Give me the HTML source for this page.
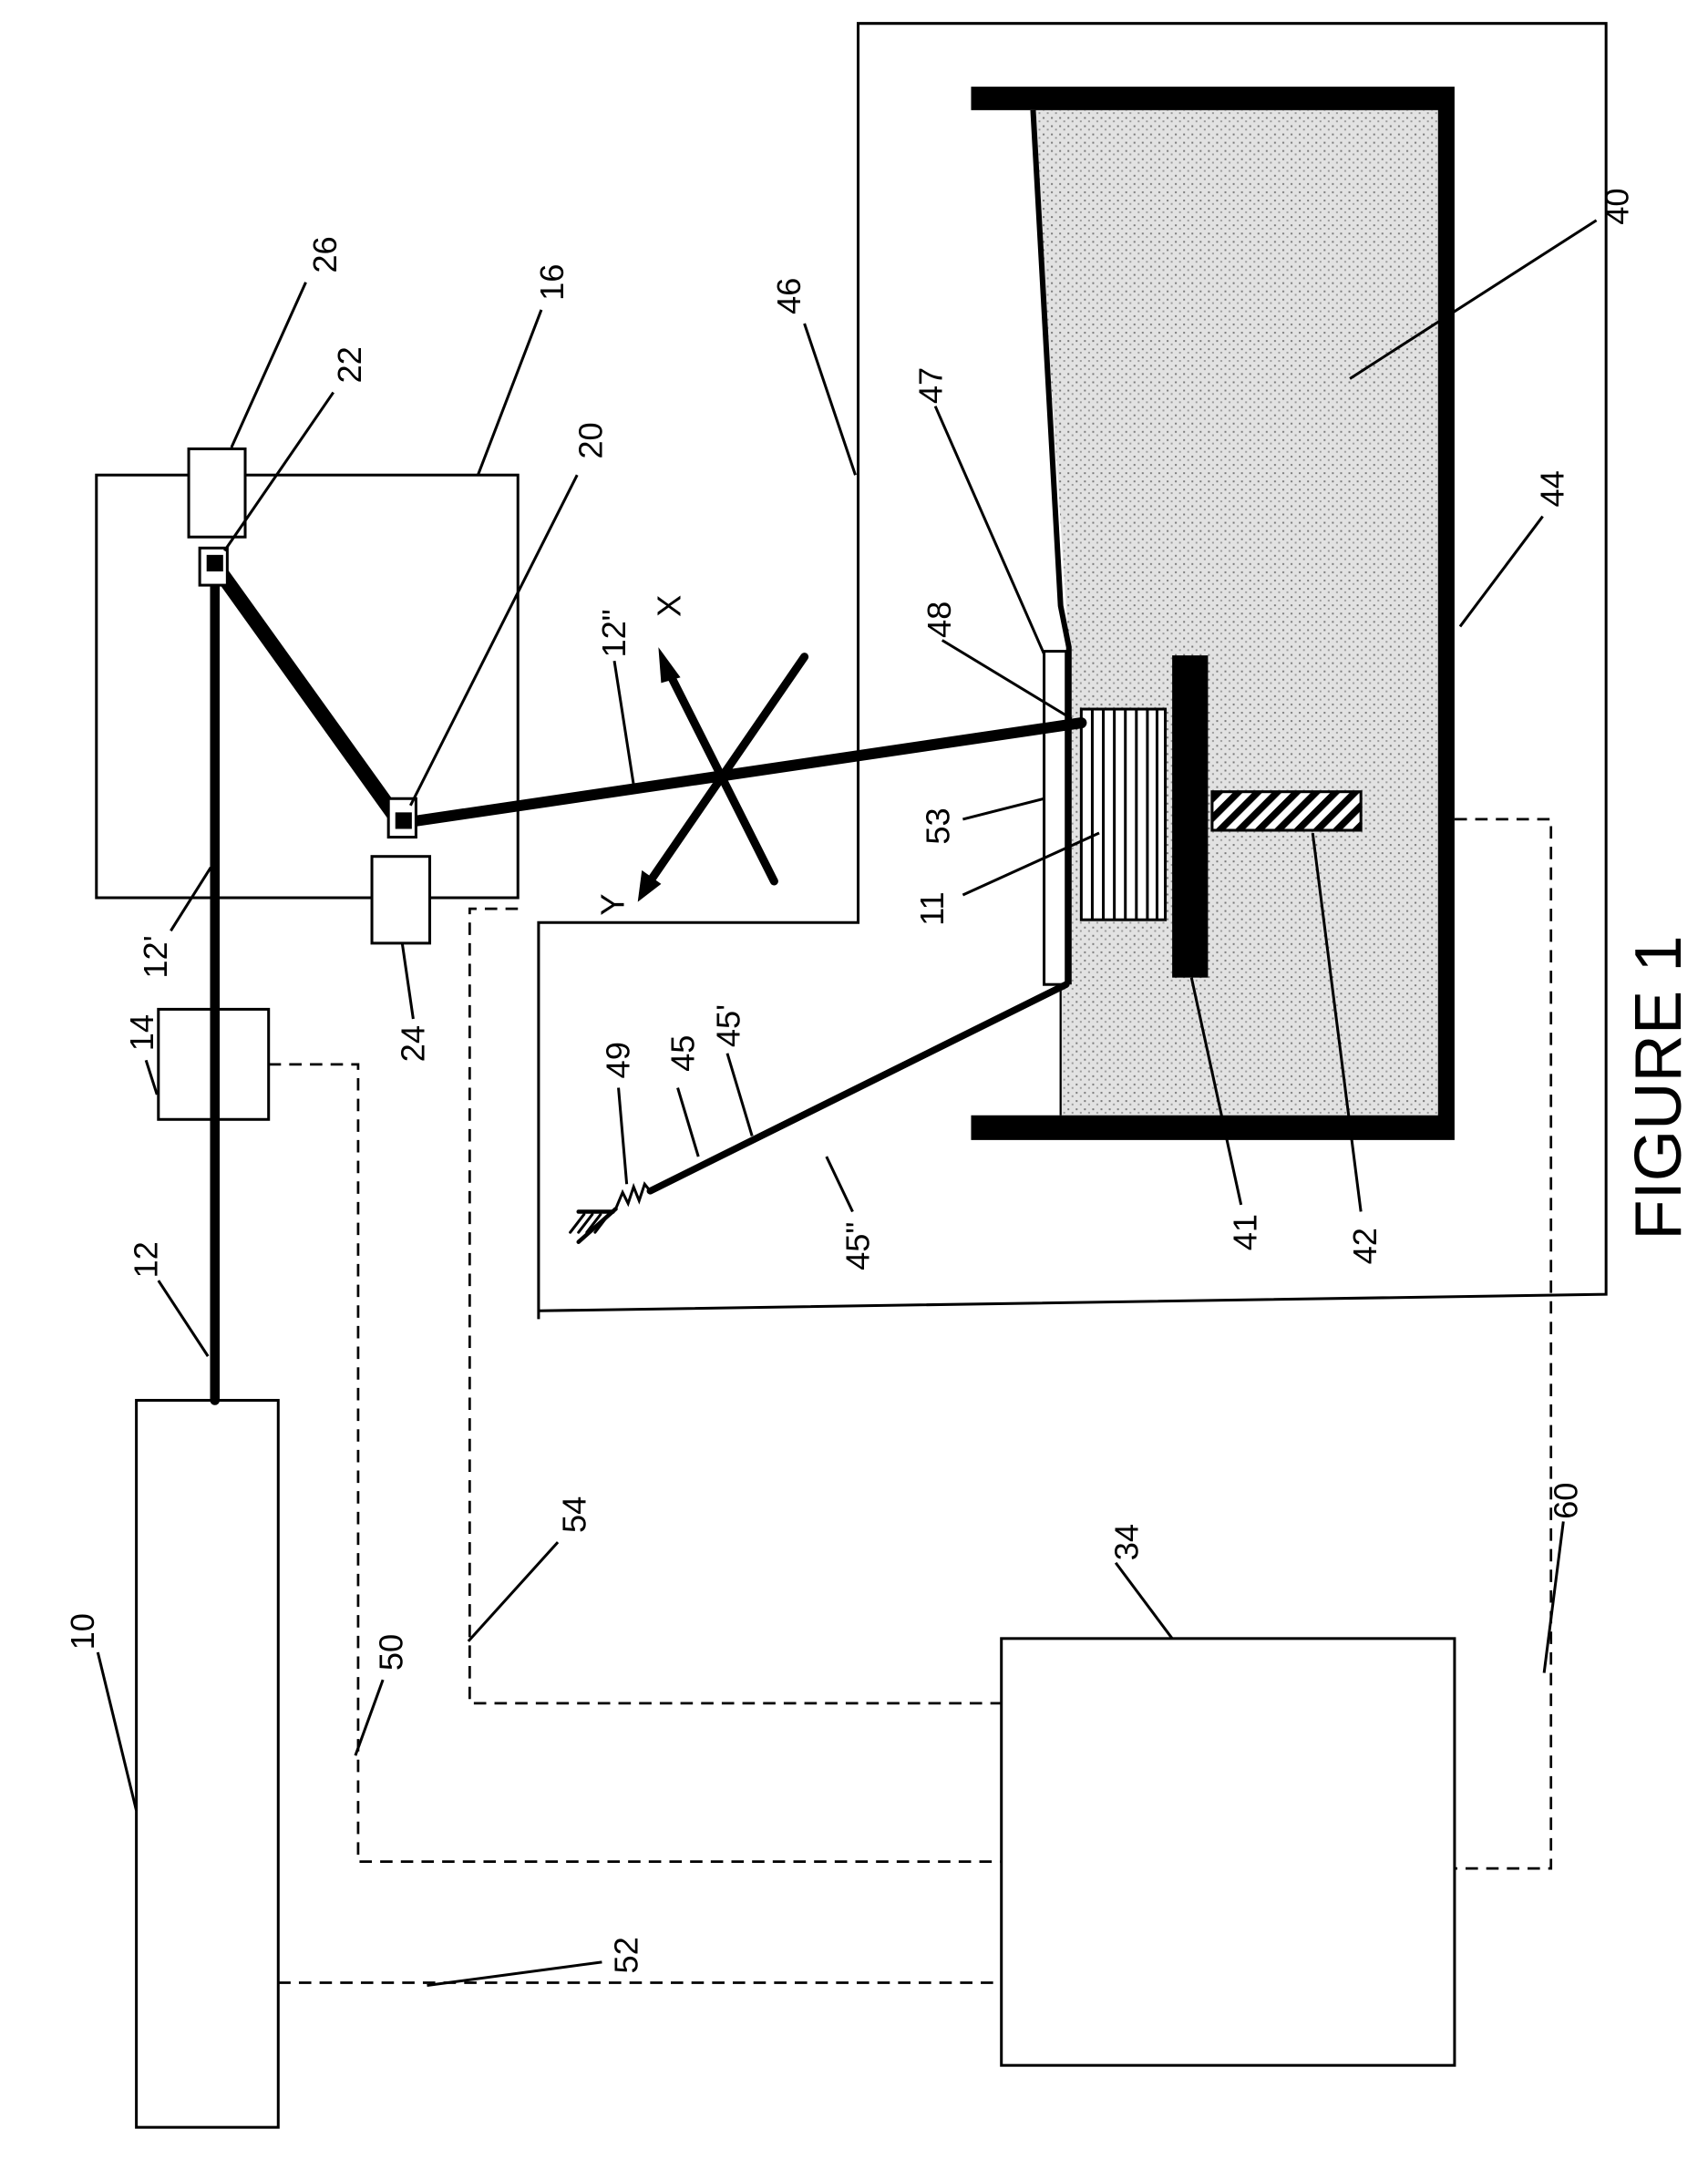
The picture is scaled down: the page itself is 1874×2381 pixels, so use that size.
<!DOCTYPE html>
<html><head><meta charset="utf-8"><style>
html,body{margin:0;padding:0;background:#fff}
svg{display:block}
text{font-family:"Liberation Sans",sans-serif;font-size:24px;fill:#000}
</style></head><body>
<svg width="1874" height="2381" viewBox="0 0 1240 1576" preserveAspectRatio="none" xmlns="http://www.w3.org/2000/svg">
<defs>
<pattern id="st" width="6" height="6" patternUnits="userSpaceOnUse">
<rect width="6" height="6" fill="#e2e2e2"/>
<rect x="1" y="1" width="1.3" height="1.3" fill="#777"/>
<rect x="4" y="3.5" width="1.3" height="1.3" fill="#999"/>
</pattern>
<pattern id="hat" width="10" height="10" patternUnits="userSpaceOnUse" patternTransform="rotate(45)">
<rect width="10" height="10" fill="#fff"/><rect width="5" height="10" fill="#000"/>
</pattern>
</defs>
<g fill="none" stroke="#000" stroke-width="2">
<polyline points="391,958 391,670 623,670 623,17 1166,17 1166,940 391,952"/>
<rect x="99" y="1017" width="103" height="528" fill="#fff"/>
<rect x="727" y="1190" width="329" height="310"/>
<rect x="70" y="345" width="306" height="307"/>
<rect x="115" y="733" width="80" height="80" fill="#fff"/>
<rect x="137" y="326" width="41" height="64" fill="#fff"/>
<rect x="270" y="622" width="42" height="63" fill="#fff"/>
</g>
<polygon points="770,80 1044,80 1044,810 770,810 770,715 776,470 750,80" fill="url(#st)"/>
<line x1="770" y1="715" x2="770" y2="810" stroke="#000" stroke-width="1.5"/>
<path d="M705,63 H1056 V828 H705 V810 H1044 V80 H705 Z" fill="#000"/>
<polyline points="750,80 770,440 776,470 776,715" fill="none" stroke="#000" stroke-width="4"/>
<rect x="758" y="473" width="16" height="242" fill="#fff" stroke="#000" stroke-width="2"/>
<rect x="785" y="515" width="61" height="153" fill="#fff" stroke="#000" stroke-width="2"/>
<g stroke="#000" stroke-width="2">
<line x1="793" y1="515" x2="793" y2="668"/><line x1="801" y1="515" x2="801" y2="668"/><line x1="809" y1="515" x2="809" y2="668"/>
<line x1="817" y1="515" x2="817" y2="668"/><line x1="825" y1="515" x2="825" y2="668"/><line x1="833" y1="515" x2="833" y2="668"/>
<line x1="840" y1="515" x2="840" y2="668"/>
</g>
<rect x="851" y="476" width="26" height="234" fill="#000"/>
<rect x="880" y="575" width="108" height="28" fill="url(#hat)" stroke="#000" stroke-width="2"/>
<g stroke="#000" fill="none" stroke-linecap="round">
<line x1="156" y1="410" x2="156" y2="1017" stroke-width="7"/>
<line x1="156" y1="410" x2="290" y2="597" stroke-width="11"/>
<line x1="290" y1="598" x2="785" y2="525" stroke-width="8"/>
<line x1="774" y1="715" x2="472" y2="865" stroke-width="5"/>
<polyline points="472,865 468,860 464,872 460,862 456,874 452,866 447,878" stroke-width="2"/>
<line x1="447" y1="878" x2="420" y2="902" stroke-width="3"/>
<line x1="420" y1="880" x2="445" y2="880" stroke-width="3"/>
<g stroke-width="2"><line x1="414" y1="895" x2="424" y2="882"/><line x1="420" y1="895" x2="430" y2="882"/><line x1="426" y1="895" x2="436" y2="882"/><line x1="432" y1="895" x2="442" y2="882"/></g>
<line x1="484" y1="485" x2="562" y2="640" stroke-width="6"/>
<line x1="472" y1="640" x2="584" y2="477" stroke-width="6"/>
</g>
<polygon points="478,470 494,492 480,496" fill="#000"/>
<polygon points="463,655 466,632 480,642" fill="#000"/>
<rect x="145" y="398" width="20" height="27" fill="#fff" stroke="#000" stroke-width="2"/>
<rect x="282" y="580" width="20" height="28" fill="#fff" stroke="#000" stroke-width="2"/>
<rect x="150" y="403" width="12" height="12" fill="#000"/>
<rect x="287" y="590" width="12" height="12" fill="#000"/>
<g fill="none" stroke="#000" stroke-width="1.8" stroke-dasharray="9,6">
<polyline points="195,773 260,773 260,1352 727,1352"/>
<polyline points="376,660 341,660 341,1237 727,1237"/>
<line x1="202" y1="1440" x2="727" y2="1440"/>
<polyline points="1056,595 1126,595 1126,1357 1056,1357"/>
</g>
<g stroke="#000" stroke-width="2">
<line x1="71" y1="1200" x2="99" y2="1315"/>
<line x1="115" y1="930" x2="151" y2="985"/>
<line x1="124" y1="676" x2="153" y2="630"/>
<line x1="106" y1="770" x2="114" y2="795"/>
<line x1="222" y1="205" x2="168" y2="325"/>
<line x1="242" y1="285" x2="163" y2="400"/>
<line x1="393" y1="225" x2="347" y2="345"/>
<line x1="419" y1="345" x2="298" y2="585"/>
<line x1="300" y1="740" x2="292" y2="685"/>
<line x1="446" y1="480" x2="460" y2="570"/>
<line x1="584" y1="235" x2="621" y2="345"/>
<line x1="679" y1="295" x2="758" y2="475"/>
<line x1="684" y1="465" x2="778" y2="522"/>
<line x1="699" y1="595" x2="758" y2="580"/>
<line x1="699" y1="650" x2="798" y2="605"/>
<line x1="492" y1="790" x2="507" y2="840"/>
<line x1="528" y1="765" x2="546" y2="825"/>
<line x1="619" y1="880" x2="600" y2="840"/>
<line x1="449" y1="790" x2="455" y2="860"/>
<line x1="901" y1="875" x2="865" y2="710"/>
<line x1="988" y1="880" x2="953" y2="605"/>
<line x1="1120" y1="375" x2="1060" y2="455"/>
<line x1="1159" y1="160" x2="980" y2="275"/>
<line x1="405" y1="1120" x2="340" y2="1192"/>
<line x1="278" y1="1220" x2="258" y2="1275"/>
<line x1="437" y1="1425" x2="310" y2="1442"/>
<line x1="810" y1="1135" x2="851" y2="1190"/>
<line x1="1135" y1="1105" x2="1121" y2="1215"/>
</g>
<g text-anchor="middle">
<text transform="translate(68,1185) rotate(-90)">10</text>
<text transform="translate(114,915) rotate(-90)">12</text>
<text transform="translate(121,695) rotate(-90)">12'</text>
<text transform="translate(111,750) rotate(-90)">14</text>
<text transform="translate(244,185) rotate(-90)">26</text>
<text transform="translate(262,265) rotate(-90)">22</text>
<text transform="translate(409,205) rotate(-90)">16</text>
<text transform="translate(437,320) rotate(-90)">20</text>
<text transform="translate(308,758) rotate(-90)">24</text>
<text transform="translate(454,460) rotate(-90)">12"</text>
<text transform="translate(494,440) rotate(-90)">X</text>
<text transform="translate(453,657) rotate(-90)">Y</text>
<text transform="translate(581,215) rotate(-90)">46</text>
<text transform="translate(684,280) rotate(-90)">47</text>
<text transform="translate(690,450) rotate(-90)">48</text>
<text transform="translate(689,600) rotate(-90)">53</text>
<text transform="translate(685,660) rotate(-90)">11</text>
<text transform="translate(504,765) rotate(-90)">45</text>
<text transform="translate(537,745) rotate(-90)">45'</text>
<text transform="translate(631,905) rotate(-90)">45"</text>
<text transform="translate(457,770) rotate(-90)">49</text>
<text transform="translate(912,895) rotate(-90)">41</text>
<text transform="translate(999,905) rotate(-90)">42</text>
<text transform="translate(1135,355) rotate(-90)">44</text>
<text transform="translate(1182,150) rotate(-90)">40</text>
<text transform="translate(425,1100) rotate(-90)">54</text>
<text transform="translate(292,1200) rotate(-90)">50</text>
<text transform="translate(463,1420) rotate(-90)">52</text>
<text transform="translate(826,1120) rotate(-90)">34</text>
<text transform="translate(1145,1090) rotate(-90)">60</text>
<text transform="translate(1220,790) rotate(-90)" style="font-size:48px">FIGURE 1</text>
</g>
</svg>
</body></html>
